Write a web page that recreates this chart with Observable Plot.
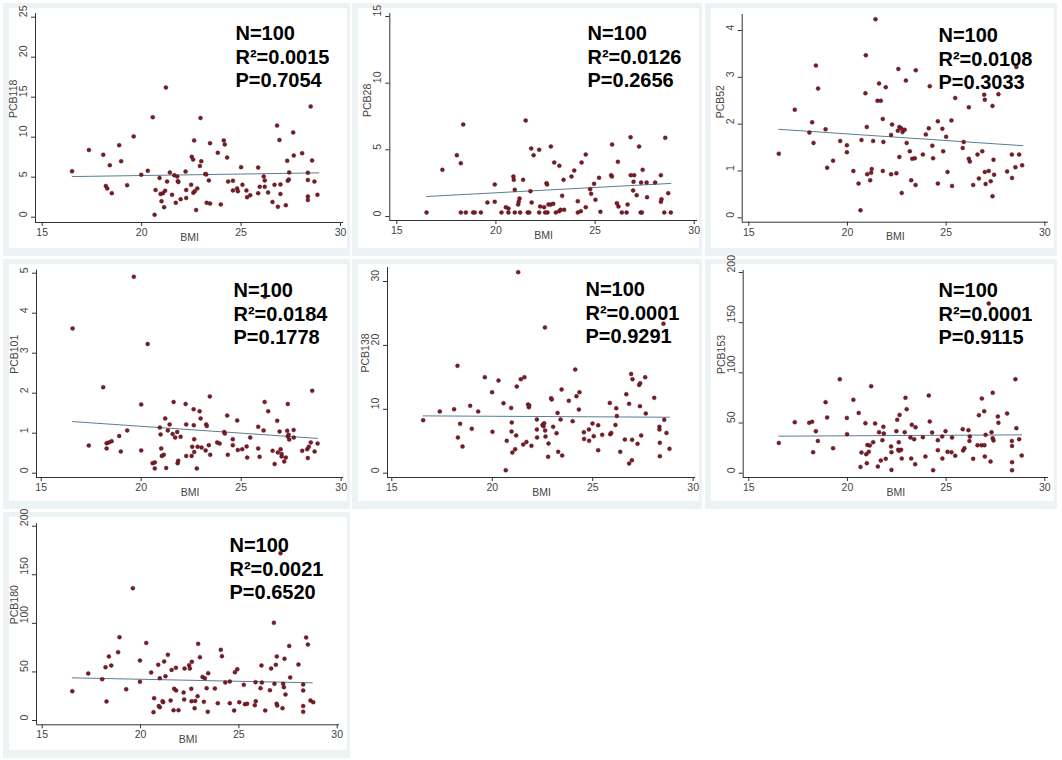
<!DOCTYPE html>
<html><head><meta charset="utf-8">
<script src="https://cdn.jsdelivr.net/npm/d3@7"></script>
<script src="https://cdn.jsdelivr.net/npm/@observablehq/plot@0.6"></script>
<style>
body{margin:0;background:#fff;width:1062px;height:760px;position:relative;overflow:hidden;font-family:"Liberation Sans",Arial,sans-serif}
.panel{position:absolute;background:#edf3f5}
.inner{position:absolute;background:#fff}
.panel svg{position:absolute;left:0;top:0;overflow:visible}
</style></head><body>
<script>
// ---------- data ----------
const panelNames = ["PCB118","PCB28","PCB52","PCB101","PCB138","PCB153","PCB180"];
const nValues  = [100,100,100,100,100,100,100];
const r2Values = ["0.0015","0.0126","0.0108","0.0184","0.0001","0.0001","0.0021"];
const pValues  = ["0.7054","0.2656","0.3033","0.1778","0.9291","0.9115","0.6520"];
const bmiTicks = [15,20,25,30];
const yTicks118 = [0,5,10,15,20,25];
const yTicks28  = [0,5,10,15];
const yTicks52  = [0,1,2,3,4];
const yTicks101 = [0,1,2,3,4,5];
const yTicks138 = [0,10,20,30];
const yTicks153 = [0,50,100,150,200];
const yTicks180 = [0,50,100,150,200];

const pcb118 = [[16.5,5.75],[17.35,8.4],[18.07,7.8],[18.2,3.9],[18.27,3.6],[18.4,6.5],[18.5,3.0],[18.87,9.0],[18.97,7.0],[19.27,4.0],[19.6,10.1],[19.98,5.3],[20.31,5.8],[20.56,12.5],[20.65,0.3],[20.7,3.4],[20.9,4.9],[20.95,2.9],[21.0,2.0],[21.07,3.0],[21.18,3.3],[21.13,1.25],[21.22,16.2],[21.28,4.45],[21.42,5.6],[21.53,2.8],[21.64,5.25],[21.72,1.8],[21.79,5.1],[21.82,4.5],[21.85,4.4],[21.96,2.25],[22.21,5.7],[22.24,3.4],[22.24,2.4],[22.49,4.05],[22.52,7.55],[22.59,7.2],[22.6,3.05],[22.64,9.6],[22.67,3.25],[22.74,0.9],[22.8,3.6],[22.93,6.4],[22.96,12.4],[23.0,7.0],[23.2,5.4],[23.25,5.35],[23.27,1.8],[23.38,4.6],[23.44,1.7],[23.44,9.25],[23.83,8.05],[23.98,1.6],[24.13,9.6],[24.18,9.1],[24.3,7.45],[24.35,4.45],[24.59,4.55],[24.59,3.35],[24.8,3.6],[24.84,3.25],[25.0,6.25],[25.07,4.05],[25.27,3.35],[25.3,2.5],[25.46,2.75],[25.86,6.2],[25.86,3.0],[25.94,3.8],[26.14,5.1],[26.19,4.6],[26.19,3.8],[26.36,3.1],[26.58,1.9],[26.68,4.05],[26.81,11.45],[26.85,1.3],[26.93,9.65],[26.98,4.1],[26.98,2.9],[27.25,1.5],[27.32,7.05],[27.35,4.55],[27.4,4.7],[27.42,5.6],[27.62,10.6],[27.65,7.7],[28.07,8.0],[28.36,5.55],[28.36,4.65],[28.36,2.6],[28.36,2.15],[28.5,13.85],[28.57,7.1],[28.69,4.45],[28.84,2.8]];
const pcb28 = [[16.5,0.3],[17.3,3.5],[18.03,4.6],[18.23,4.0],[18.35,6.9],[18.23,0.3],[18.48,0.3],[18.85,0.3],[18.93,0.3],[19.24,0.3],[19.57,1.05],[19.94,2.4],[19.94,1.1],[20.28,0.3],[20.5,0.7],[20.63,0.6],[20.63,0.3],[20.88,3.0],[20.9,2.75],[20.95,2.0],[20.95,0.3],[21.12,0.9],[21.15,1.1],[21.19,1.35],[21.22,0.3],[21.37,2.75],[21.5,7.2],[21.6,0.3],[21.68,0.3],[21.74,1.9],[21.78,5.1],[21.8,1.05],[21.9,4.6],[22.18,5.0],[22.18,0.3],[22.23,0.75],[22.43,0.7],[22.48,0.3],[22.55,2.5],[22.58,2.4],[22.6,0.3],[22.65,0.9],[22.77,5.25],[22.77,0.9],[22.89,0.95],[22.94,4.05],[23.02,0.3],[23.19,0.4],[23.2,3.8],[23.26,0.5],[23.34,1.55],[23.41,2.75],[23.44,0.5],[23.81,3.0],[23.95,3.45],[24.13,1.15],[24.13,0.3],[24.28,0.4],[24.32,4.05],[24.53,4.65],[24.53,0.7],[24.75,2.05],[24.8,1.7],[24.95,2.45],[25.02,1.25],[25.2,2.9],[25.27,0.35],[25.81,3.1],[25.85,3.0],[25.86,5.4],[26.1,1.0],[26.15,4.1],[26.18,0.75],[26.35,0.3],[26.59,0.3],[26.64,0.9],[26.79,5.95],[26.8,3.1],[26.92,1.95],[26.97,3.1],[26.94,2.6],[27.1,1.6],[27.22,5.25],[27.3,0.3],[27.36,0.3],[27.32,2.55],[27.4,3.5],[27.6,2.55],[27.62,1.45],[28.03,2.55],[28.32,3.1],[28.35,1.3],[28.32,1.1],[28.49,0.3],[28.54,5.9],[28.69,1.75],[28.82,0.3]];
const pcb52 = [[16.52,1.37],[17.33,2.31],[18.07,1.82],[18.21,2.04],[18.28,1.6],[18.4,3.25],[18.51,2.76],[18.89,1.89],[18.97,1.07],[19.27,1.22],[19.63,1.64],[19.97,1.55],[19.97,1.4],[20.3,1.0],[20.56,0.73],[20.66,0.16],[20.71,1.66],[20.91,2.66],[20.93,3.47],[20.98,1.94],[21.0,0.93],[21.15,0.8],[21.2,0.96],[21.23,1.04],[21.3,1.64],[21.42,4.24],[21.52,2.5],[21.6,2.87],[21.69,2.5],[21.79,2.11],[21.79,1.0],[21.82,1.62],[21.94,2.79],[22.21,0.93],[22.21,1.77],[22.26,1.99],[22.48,0.95],[22.55,1.86],[22.58,3.18],[22.63,1.94],[22.63,1.3],[22.72,1.91],[22.75,0.53],[22.79,1.83],[22.9,1.88],[22.96,2.93],[23.0,1.6],[23.16,1.42],[23.23,0.8],[23.28,1.26],[23.41,1.27],[23.45,0.7],[23.46,3.15],[23.82,1.35],[23.97,1.78],[24.12,1.91],[24.17,2.81],[24.3,1.54],[24.34,1.27],[24.58,2.06],[24.58,0.73],[24.81,1.9],[24.85,1.42],[25.0,1.73],[25.07,0.98],[25.27,2.08],[25.3,0.68],[25.46,2.56],[26.15,2.36],[25.84,1.49],[25.89,1.62],[26.15,1.26],[26.2,1.2],[26.37,0.7],[26.59,1.35],[26.66,0.84],[26.83,1.42],[26.93,2.63],[26.96,2.52],[26.96,0.98],[27.0,0.72],[27.16,1.0],[27.26,0.78],[27.35,2.39],[27.35,0.46],[27.4,1.24],[27.43,0.92],[27.65,2.64],[28.09,0.99],[28.33,1.35],[28.34,0.85],[28.51,1.08],[28.56,3.22],[28.7,1.35],[28.85,1.12]];
const pcb101 = [[16.57,3.62],[17.38,0.69],[18.1,2.15],[18.27,0.62],[18.27,0.75],[18.38,0.77],[18.52,0.8],[18.9,0.93],[18.98,0.54],[19.3,1.07],[19.63,4.91],[20.0,1.72],[20.0,0.57],[20.32,3.23],[20.57,0.25],[20.68,0.27],[20.68,0.12],[20.93,1.14],[20.97,0.97],[21.0,0.62],[21.03,0.43],[21.13,0.46],[21.2,1.37],[21.25,0.13],[21.33,1.07],[21.42,1.22],[21.57,0.98],[21.62,1.78],[21.7,0.89],[21.8,1.03],[21.82,0.25],[21.85,0.31],[21.97,0.91],[22.22,1.73],[22.25,1.22],[22.25,0.43],[22.52,0.43],[22.55,0.66],[22.62,1.6],[22.63,1.2],[22.65,0.85],[22.65,0.53],[22.78,0.12],[22.82,0.66],[22.92,1.55],[22.97,1.37],[23.02,0.64],[23.22,0.57],[23.25,1.22],[23.28,1.18],[23.38,0.7],[23.43,1.92],[23.45,0.46],[23.8,0.77],[23.92,0.74],[24.15,1.03],[24.18,0.99],[24.3,1.44],[24.33,0.46],[24.58,0.85],[24.58,0.7],[24.8,1.32],[24.83,0.58],[25.05,0.6],[25.27,0.67],[25.3,0.39],[25.45,0.89],[25.85,1.16],[25.85,0.62],[25.92,0.41],[26.12,1.07],[26.17,1.78],[26.18,4.41],[26.35,1.55],[26.57,0.56],[26.67,0.23],[26.8,1.31],[26.83,0.52],[26.92,1.04],[26.97,0.6],[27.02,0.42],[27.02,0.48],[27.15,0.29],[27.23,0.39],[27.3,1.06],[27.33,1.73],[27.33,0.92],[27.37,0.96],[27.4,0.84],[27.62,1.08],[27.63,0.89],[28.05,0.56],[28.3,0.6],[28.33,0.38],[28.38,0.66],[28.48,0.77],[28.55,2.06],[28.67,0.54],[28.82,0.74]];
const pcb138 = [[16.56,8.3],[17.39,9.65],[18.1,10.0],[18.27,16.8],[18.29,5.58],[18.4,7.72],[18.52,4.17],[18.9,10.54],[18.98,6.94],[19.3,9.65],[19.63,15.02],[19.99,12.68],[20.01,6.47],[20.31,14.5],[20.56,10.95],[20.67,0.47],[20.72,5.06],[20.94,10.22],[20.96,6.52],[20.97,7.93],[21.0,3.23],[21.14,3.76],[21.19,5.9],[21.22,13.56],[21.29,31.46],[21.42,14.71],[21.54,4.49],[21.6,15.02],[21.7,4.9],[21.78,10.75],[21.82,10.33],[21.84,10.6],[21.95,4.28],[22.22,8.4],[22.22,6.83],[22.23,5.58],[22.5,7.56],[22.55,7.36],[22.58,7.82],[22.62,22.8],[22.63,6.68],[22.65,5.74],[22.8,4.64],[22.78,2.56],[22.93,11.74],[22.96,11.53],[23.03,7.25],[23.2,6.26],[23.25,9.44],[23.28,3.34],[23.4,8.4],[23.45,13.1],[23.48,2.76],[23.81,11.32],[24.0,8.14],[24.13,16.22],[24.19,12.05],[24.31,9.96],[24.34,12.68],[24.56,6.42],[24.57,5.37],[24.81,6.83],[24.82,5.06],[24.99,7.77],[25.05,5.79],[25.27,7.51],[25.27,3.6],[25.47,6.0],[25.85,11.0],[25.87,6.1],[25.92,6.31],[26.13,7.56],[26.17,10.17],[26.2,8.97],[26.37,3.34],[26.6,5.27],[26.67,12.36],[26.81,10.85],[26.81,1.51],[26.91,15.54],[26.95,2.03],[26.96,5.22],[26.98,14.71],[27.23,4.59],[27.31,13.82],[27.36,14.08],[27.35,10.49],[27.41,5.9],[27.61,15.02],[27.64,9.34],[28.06,11.79],[28.32,7.25],[28.32,6.83],[28.34,4.75],[28.34,2.66],[28.52,23.4],[28.56,8.35],[28.67,6.31],[28.82,3.81]];
const pcb153 = [[16.52,30.2],[17.33,50.8],[18.06,50.2],[18.21,51.2],[18.26,20.9],[18.4,41.9],[18.5,32.2],[18.89,70.8],[18.97,55.5],[19.27,24.9],[19.61,93.7],[19.97,55.1],[19.98,38.9],[20.3,73.1],[20.57,60.1],[20.66,6.3],[20.71,20.6],[20.91,49.8],[20.95,18.9],[20.98,10.0],[21.01,28.2],[21.08,21.3],[21.13,27.6],[21.2,86.7],[21.3,30.9],[21.4,49.5],[21.54,6.6],[21.6,40.9],[21.69,12.6],[21.77,32.9],[21.82,46.2],[21.84,39.5],[21.94,14.3],[22.21,26.6],[22.23,3.3],[22.23,20.9],[22.48,41.9],[22.52,53.2],[22.57,23.3],[22.6,30.9],[22.62,22.3],[22.64,58.1],[22.72,23.3],[22.75,14.6],[22.9,40.9],[22.94,75.1],[23.0,63.8],[23.19,35.5],[23.23,14.6],[23.26,48.2],[23.38,33.9],[23.43,9.0],[23.45,45.8],[23.82,35.9],[23.95,16.6],[24.12,77.4],[24.17,51.5],[24.29,40.5],[24.34,3.0],[24.58,32.9],[24.58,22.9],[24.8,36.5],[24.81,14.6],[24.97,41.9],[25.07,21.3],[25.27,20.9],[25.3,35.5],[25.46,17.3],[25.84,43.9],[25.86,22.6],[25.93,24.9],[26.13,42.9],[26.18,32.2],[26.2,36.5],[26.37,14.3],[26.59,27.9],[26.66,57.8],[26.79,27.9],[26.81,74.4],[26.93,61.8],[26.94,27.9],[26.96,16.6],[27.0,38.2],[27.16,169.1],[27.25,11.6],[27.3,40.9],[27.36,80.1],[27.36,34.9],[27.4,32.6],[27.62,56.5],[27.65,50.2],[28.09,59.5],[28.33,32.2],[28.34,27.2],[28.34,11.0],[28.34,3.0],[28.51,93.7],[28.56,44.9],[28.7,33.9],[28.83,17.6]];
const pcb180 = [[16.53,30.2],[17.34,48.4],[18.05,42.5],[18.22,54.9],[18.27,19.6],[18.39,65.9],[18.51,56.6],[18.86,70.3],[18.93,85.8],[19.27,32.2],[19.61,136.2],[19.97,39.8],[19.97,61.7],[20.29,79.9],[20.54,49.4],[20.66,8.6],[20.69,23.0],[20.9,57.3],[20.93,14.8],[20.98,13.7],[20.98,43.6],[21.12,19.9],[21.15,18.9],[21.2,60.7],[21.27,45.6],[21.39,67.6],[21.53,20.6],[21.58,52.1],[21.68,10.6],[21.71,32.6],[21.8,54.2],[21.81,30.9],[21.93,10.6],[22.19,28.8],[22.22,21.6],[22.24,53.5],[22.47,56.9],[22.51,53.5],[22.58,32.6],[22.59,19.9],[22.61,60.4],[22.75,12.7],[22.78,20.2],[22.9,25.0],[22.93,78.9],[23.02,65.2],[23.15,44.9],[23.22,19.2],[23.27,43.6],[23.36,33.3],[23.42,8.9],[23.44,48.7],[23.78,32.9],[23.93,17.8],[24.08,72.7],[24.14,66.2],[24.31,39.1],[24.54,17.8],[24.54,40.1],[24.76,10.3],[24.8,49.7],[24.92,52.8],[25.02,18.9],[25.25,36.7],[25.31,16.8],[25.42,17.2],[25.81,15.8],[25.85,39.5],[25.86,19.9],[26.1,33.3],[26.15,56.6],[26.17,39.1],[26.34,10.3],[26.58,31.2],[26.64,53.5],[26.78,100.5],[26.81,37.7],[26.88,57.3],[26.92,17.2],[26.93,65.9],[26.95,15.4],[27.12,172.2],[27.22,12.7],[27.25,37.7],[27.29,34.3],[27.32,63.5],[27.37,26.8],[27.56,76.8],[27.61,44.3],[28.03,57.6],[28.27,37.0],[28.27,30.9],[28.27,14.8],[28.27,8.9],[28.42,85.4],[28.51,78.2],[28.64,20.6],[28.78,18.9]];

// fitted regression lines (endpoints)
const fit118 = [[16.51,5.08],[28.91,5.54]];
const fit28  = [[16.5,1.5],[28.82,2.48]];
const fit52  = [[16.52,1.89],[28.89,1.54]];
const fit101 = [[16.57,1.29],[28.82,0.87]];
const fit138 = [[16.56,8.97],[28.82,8.76]];
const fit153 = [[16.52,36.9],[28.83,38.2]];
const fit180 = [[16.53,43.9],[28.73,38.8]];

const pointSets = [pcb118,pcb28,pcb52,pcb101,pcb138,pcb153,pcb180];
const fitSets = [fit118,fit28,fit52,fit101,fit138,fit153,fit180];
const tickSets = [yTicks118,yTicks28,yTicks52,yTicks101,yTicks138,yTicks153,yTicks180];

// ---------- layout (page pixels) ----------
const layouts = [
  {left:3,  top:3,   w:347, h:253, L:35,    R:343,  T:13,    B:222,   x15:41.7,  x30:340,    y0:216.7, yRef:25,  yRefPx:16.7,  tx:235, ty:23},
  {left:352,top:3,   w:350, h:253, L:389.3, R:697,  T:13,    B:220,   x15:396.3, x30:693.7,  y0:216,   yRef:15,  yRefPx:16,    tx:587, ty:23},
  {left:705,top:3,   w:352, h:253, L:741.7, R:1048, T:14,    B:221.7, x15:748.3, x30:1044.3, y0:217.3, yRef:4,   yRefPx:30,    tx:938, ty:25},
  {left:3,  top:259, w:347, h:250, L:36,    R:343,  T:269.7, B:477,   x15:40.7,  x30:340.7,  y0:472.7, yRef:5,   yRefPx:272.7, tx:233, ty:280},
  {left:352,top:259, w:350, h:250, L:387,   R:695,  T:267,   B:477,   x15:391.3, x30:692.7,  y0:472.7, yRef:30,  yRefPx:281,   tx:585, ty:279},
  {left:705,top:259, w:352, h:250, L:742.7, R:1048, T:270,   B:477,   x15:748.3, x30:1044.3, y0:472.7, yRef:200, yRefPx:272,   tx:938, ty:280},
  {left:3,  top:512, w:347, h:246, L:36,    R:339,  T:523.3, B:724.3, x15:41.7,  x30:336.7,  y0:720,   yRef:200, yRefPx:525.7, tx:229, ty:535}
];

const axisColor = "#333";
const labelColor = "#444";
const dotColor = "#7a1c26";
const lineColor = "#5a7d96";

layouts.forEach((lay, i) => {
  const div = document.createElement("div");
  div.className = "panel";
  Object.assign(div.style, {left: lay.left+"px", top: lay.top+"px", width: lay.w+"px", height: lay.h+"px"});
  const inner = document.createElement("div");
  inner.className = "inner";
  Object.assign(inner.style, {left:"6px", top:"5px", width:(lay.w-9)+"px", height:(lay.h-13)+"px"});
  div.appendChild(inner);

  const xv = px => 15 + (px - lay.x15) / (lay.x30 - lay.x15) * 15;
  const yv = py => (lay.y0 - py) / (lay.y0 - lay.yRefPx) * lay.yRef;
  const xDom = [xv(lay.L), xv(lay.R)];
  const yDom = [yv(lay.B), yv(lay.T)];
  const statText = `N=${nValues[i]}\nR²=${r2Values[i]}\nP=${pValues[i]}`;

  const chart = Plot.plot({
    width: lay.w, height: lay.h,
    marginLeft: lay.L - lay.left,
    marginRight: lay.left + lay.w - lay.R,
    marginTop: lay.T - lay.top,
    marginBottom: lay.top + lay.h - lay.B,
    x: {domain: xDom},
    y: {domain: yDom},
    style: {background: "transparent", fontFamily: "'Liberation Sans', Arial, sans-serif", color: labelColor},
    marks: [
      Plot.axisX({ticks: bmiTicks, tickSize: 4, tickPadding: 2, label: null, fontSize: 10.5, fill: labelColor, stroke: axisColor}),
      Plot.axisY({ticks: tickSets[i], tickSize: 4, tickFormat: () => "", label: null, stroke: axisColor}),
      Plot.text(tickSets[i], {y: d => d, frameAnchor: "left", dx: -12, rotate: -90, text: d => String(d), fill: labelColor, fontSize: 10.5}),
      Plot.ruleY([yDom[0]], {stroke: axisColor, strokeWidth: 1}),
      Plot.ruleX([xDom[0]], {stroke: axisColor, strokeWidth: 1}),
      Plot.line(fitSets[i], {x: d => d[0], y: d => d[1], stroke: lineColor, strokeWidth: 1}),
      Plot.dot(pointSets[i], {x: d => d[0], y: d => d[1], r: 2, fill: dotColor, stroke: "#4a0d14", strokeWidth: 0.4}),
      Plot.text([panelNames[i]], {frameAnchor: "left", dx: -22, rotate: -90, text: d => d, fill: labelColor, fontSize: 10.5}),
      Plot.text(["BMI"], {frameAnchor: "bottom", dy: 18, text: d => d, fill: labelColor, fontSize: 10.5}),
      Plot.text([statText], {frameAnchor: "top-left", dx: lay.tx - lay.L, dy: lay.ty - lay.T, text: d => d,
        lineAnchor: "top", textAnchor: "start", fontSize: 20, fontWeight: "bold", lineHeight: 1.175,
        fontFamily: "'Liberation Sans', Arial, sans-serif", fill: "#000"})
    ]
  });
  div.appendChild(chart);
  document.body.appendChild(div);
});
</script>
</body></html>
